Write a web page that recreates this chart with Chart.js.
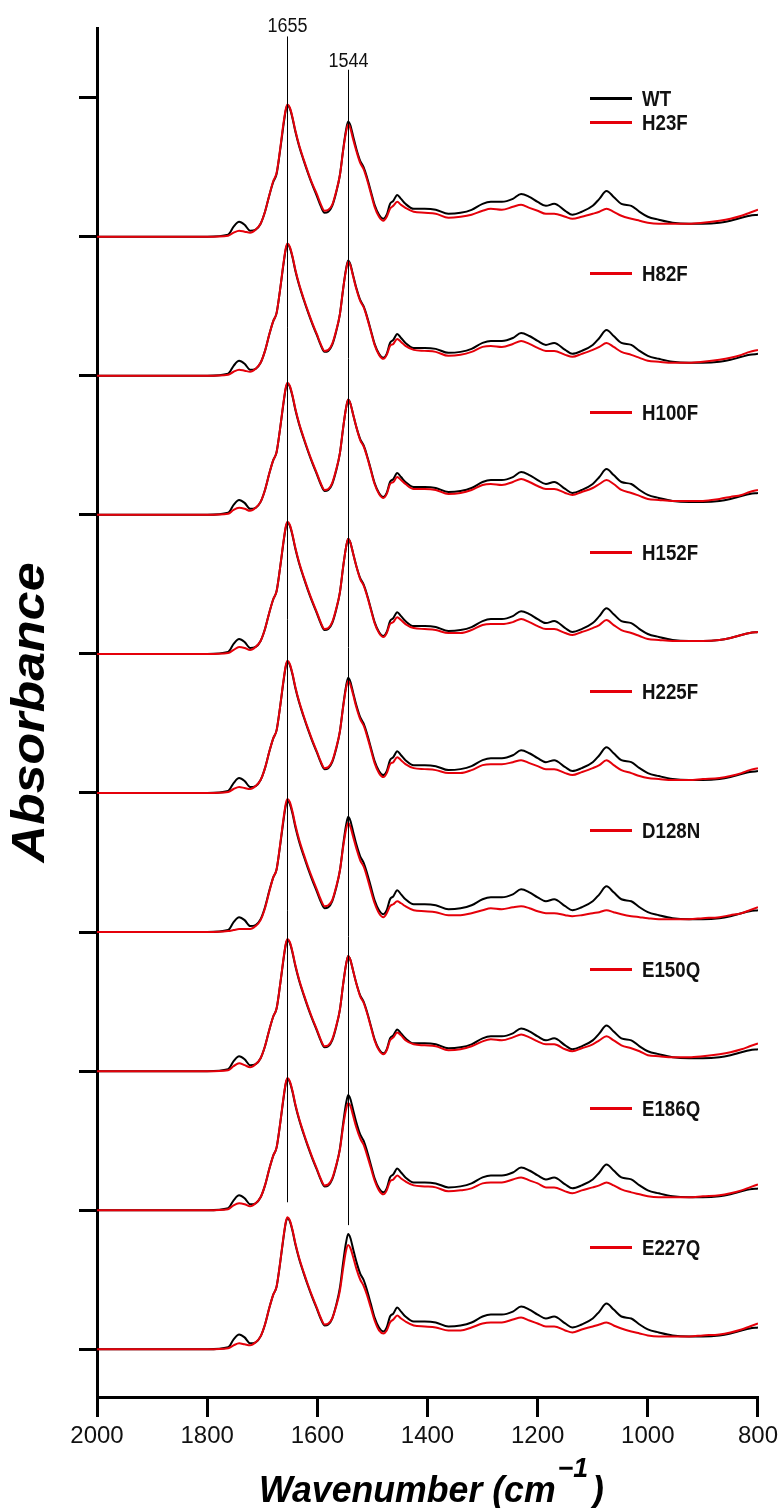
<!DOCTYPE html>
<html>
<head>
<meta charset="utf-8">
<script src="https://cdn.jsdelivr.net/npm/chart.js@4.4.1/dist/chart.umd.min.js"></script>
<style>
  html, body { margin: 0; padding: 0; background: #fff; }
  #wrap { width: 783px; height: 1508px; }
</style>
</head>
<body>
<div id="wrap"><canvas id="ftir" width="783" height="1508"></canvas></div>
<script>
// wavenumber grid (cm-1), high to low
const wavenumbers = [
  2000, 1900, 1800, 1762, 1752, 1742, 1732, 1722, 1712, 1703,
  1695, 1687, 1680, 1674, 1668, 1662, 1657, 1654, 1650, 1645,
  1640, 1633, 1625, 1617, 1609, 1601, 1594, 1587, 1580, 1573,
  1566, 1559, 1553, 1548, 1544, 1540, 1535, 1529, 1522, 1516,
  1510, 1503, 1496, 1488, 1480, 1474, 1468, 1462, 1455, 1448,
  1440, 1425, 1405, 1385, 1362, 1340, 1320, 1300, 1285, 1265,
  1245, 1230, 1215, 1200, 1185, 1170, 1150, 1137, 1120, 1100,
  1088, 1075, 1062, 1048, 1030, 1015, 1000, 980, 955, 925,
  900, 870, 850, 830, 815, 800
];

// absorbance in mOD
const wt = [
  0, 0, 0, 2, 10, 15, 12, 6, 7, 13,
  25, 42, 55, 63, 85, 110, 128, 132, 129, 119,
  106, 91, 77, 64, 52, 41, 31, 24, 25, 31,
  44, 62, 88, 107, 116, 112, 101, 88, 76, 70,
  60, 46, 32, 22, 18, 22, 33, 36, 42, 38,
  33, 28, 28, 27, 23, 24, 27, 33, 35, 35,
  38, 43, 40, 35, 31, 33, 26, 22, 25, 31,
  38, 46, 40, 33, 31, 25, 20, 17, 14, 13,
  13, 14, 16, 19, 21, 22
];
const h23f = [
  0, 0, 0, 1, 4, 6, 5, 4, 7, 13,
  25, 42, 56, 64, 86, 112, 129, 133, 130, 120,
  107, 92, 78, 65, 53, 43, 33, 26, 27, 32,
  45, 62, 87, 105, 113, 109, 98, 86, 74, 68,
  58, 44, 30, 20, 16, 20, 28, 31, 35, 32,
  29, 25, 24, 23, 19, 20, 22, 26, 28, 27,
  30, 32, 29, 26, 23, 23, 20, 18, 20, 23,
  25, 28, 25, 21, 18, 16, 14, 13, 13, 13,
  14, 16, 18, 21, 24, 27
];
const h82f = [
  0, 0, 0, 1, 4, 6, 5, 4, 7, 13,
  25, 42, 55, 63, 85, 111, 129, 133, 130, 120,
  107, 92, 78, 65, 53, 42, 32, 25, 26, 32,
  45, 62, 88, 106, 115, 111, 100, 87, 75, 69,
  59, 45, 31, 21, 17, 21, 30, 32, 37, 34,
  30, 26, 25, 24, 20, 21, 24, 29, 30, 29,
  32, 35, 32, 28, 25, 25, 21, 19, 22, 26,
  29, 33, 29, 24, 21, 18, 15, 14, 13, 13,
  14, 16, 18, 21, 24, 26
];
const h100f = [
  0, 0, 0, 1, 5, 7, 6, 4, 7, 13,
  25, 42, 55, 63, 85, 111, 129, 133, 130, 120,
  107, 92, 78, 65, 53, 42, 32, 25, 26, 32,
  45, 62, 88, 107, 116, 112, 101, 88, 75, 69,
  59, 45, 31, 21, 17, 21, 31, 33, 38, 35,
  31, 26, 26, 25, 21, 22, 25, 30, 31, 30,
  33, 36, 33, 29, 26, 26, 22, 20, 23, 27,
  31, 35, 31, 25, 22, 19, 16, 15, 14, 14,
  14, 16, 18, 20, 23, 25
];
const h152f = [
  0, 0, 0, 1, 4, 7, 6, 4, 7, 13,
  25, 42, 55, 63, 85, 111, 129, 133, 130, 120,
  107, 92, 78, 65, 53, 42, 32, 25, 26, 32,
  45, 62, 88, 107, 116, 112, 101, 88, 75, 69,
  59, 45, 31, 21, 17, 21, 30, 32, 37, 34,
  30, 26, 25, 24, 21, 21, 24, 29, 30, 30,
  32, 35, 32, 28, 25, 25, 21, 19, 22, 26,
  29, 34, 29, 24, 21, 18, 15, 14, 13, 13,
  13, 14, 16, 19, 21, 22
];
const h225f = [
  0, 0, 0, 1, 4, 6, 5, 4, 7, 13,
  25, 42, 55, 63, 85, 111, 129, 133, 130, 120,
  107, 92, 78, 65, 53, 42, 32, 25, 26, 32,
  45, 62, 87, 105, 113, 109, 99, 86, 74, 68,
  58, 44, 30, 20, 16, 20, 29, 31, 36, 33,
  29, 25, 24, 23, 20, 20, 23, 28, 29, 29,
  31, 33, 30, 27, 24, 24, 20, 18, 21, 25,
  28, 33, 28, 23, 20, 17, 15, 14, 13, 13,
  14, 15, 17, 20, 23, 25
];
const d128n = [
  0, 0, 0, 1, 2, 3, 3, 3, 6, 12,
  24, 41, 55, 63, 86, 112, 130, 134, 131, 121,
  108, 93, 79, 66, 54, 43, 33, 26, 27, 32,
  45, 62, 86, 103, 110, 106, 96, 84, 72, 66,
  56, 42, 29, 19, 15, 19, 26, 28, 31, 29,
  26, 22, 21, 20, 17, 17, 19, 22, 24, 23,
  25, 26, 24, 21, 19, 19, 17, 16, 17, 19,
  20, 22, 20, 18, 16, 15, 14, 13, 13, 13,
  14, 15, 17, 19, 22, 25
];
const e150q = [
  0, 0, 0, 1, 5, 8, 6, 4, 7, 13,
  25, 42, 55, 63, 85, 111, 129, 133, 130, 120,
  107, 92, 78, 65, 53, 42, 32, 25, 26, 32,
  45, 62, 88, 107, 116, 112, 101, 88, 75, 69,
  59, 45, 31, 21, 17, 21, 31, 34, 39, 36,
  31, 27, 26, 25, 21, 22, 25, 30, 32, 31,
  34, 37, 34, 30, 27, 27, 22, 20, 23, 27,
  31, 35, 31, 26, 23, 20, 16, 15, 14, 14,
  15, 17, 19, 22, 25, 28
];
const e186q = [
  0, 0, 0, 1, 5, 7, 6, 4, 7, 13,
  25, 42, 55, 63, 85, 111, 129, 133, 130, 120,
  107, 92, 78, 65, 53, 42, 32, 25, 26, 32,
  45, 61, 85, 101, 108, 105, 95, 83, 72, 66,
  56, 43, 30, 20, 16, 20, 29, 31, 35, 32,
  29, 25, 24, 23, 19, 20, 22, 27, 28, 28,
  31, 33, 30, 27, 23, 23, 19, 17, 20, 23,
  25, 28, 25, 21, 18, 16, 14, 13, 13, 13,
  14, 15, 17, 20, 23, 26
];
const e227q = [
  0, 0, 0, 1, 4, 6, 5, 4, 7, 13,
  25, 42, 55, 63, 85, 111, 129, 133, 130, 120,
  107, 92, 78, 65, 53, 42, 32, 25, 26, 31,
  43, 59, 82, 99, 105, 102, 93, 81, 70, 64,
  55, 42, 29, 19, 16, 19, 27, 30, 34, 31,
  28, 24, 23, 22, 19, 19, 22, 26, 27, 27,
  30, 32, 29, 26, 23, 23, 19, 17, 20, 23,
  25, 27, 24, 21, 18, 16, 14, 13, 13, 13,
  14, 15, 17, 20, 23, 26
];

const mutantNames = ['H23F', 'H82F', 'H100F', 'H152F', 'H225F', 'D128N', 'E150Q', 'E186Q', 'E227Q'];
const mutantSpectra = [h23f, h82f, h100f, h152f, h225f, d128n, e150q, e186q, e227q];
const panelStep = 0.14; // vertical offset between stacked pairs (abs units)

const xTickValues = [2000, 1800, 1600, 1400, 1200, 1000, 800];
const yTickValues = [0, 0.14, 0.28, 0.42, 0.56, 0.70, 0.84, 0.98, 1.12, 1.26];
const peakMarks = [1655, 1544];

const RED = '#e5000a';
const FONT = '"Liberation Sans", Arial, sans-serif';

function offsetOf(i) {
    return (mutantNames.length - 1 - i) * panelStep;
}

function toPoints(values, off) {
    return values.map((v, k) => ({ x: wavenumbers[k], y: v / 1000 + off }));
}

const datasets = [];
mutantNames.forEach((name, i) => {
    const off = offsetOf(i);
    datasets.push({
        label: name,
        data: toPoints(mutantSpectra[i], off),
        borderColor: RED,
        borderWidth: 2,
        order: 0
    });
    datasets.push({
        label: 'WT',
        data: toPoints(wt, off),
        borderColor: '#000',
        borderWidth: 2,
        order: 1
    });
});

// draws text squeezed/stretched horizontally
function drawScaled(ctx, text, x, y, sx, align) {
    ctx.save();
    ctx.translate(x, y);
    ctx.scale(sx, 1);
    ctx.textAlign = align || 'left';
    ctx.fillText(text, 0, 0);
    ctx.restore();
}

const decorPlugin = {
    id: 'decor',
    afterDraw(chart) {
        const ctx = chart.ctx;
        const xs = chart.scales.x;
        const ys = chart.scales.y;
        const area = chart.chartArea;

        // peak marker lines + labels
        const lineTop = [1.3215, 1.288];
        const lineBottom = [0.148, 0.125];
        const labelY = [1.3255, 1.291];
        ctx.save();
        ctx.strokeStyle = '#000';
        ctx.lineWidth = 1;
        ctx.fillStyle = '#111';
        ctx.font = '20px ' + FONT;
        ctx.textBaseline = 'alphabetic';
        peakMarks.forEach((wn, i) => {
            const px = Math.round(xs.getPixelForValue(wn)) + 0.5;
            ctx.beginPath();
            ctx.moveTo(px, ys.getPixelForValue(lineTop[i]));
            ctx.lineTo(px, ys.getPixelForValue(lineBottom[i]));
            ctx.stroke();
            drawScaled(ctx, String(wn), px, ys.getPixelForValue(labelY[i]), 0.9, 'center');
        });
        ctx.restore();

        // per-panel legend entries
        ctx.save();
        ctx.font = 'bold 22px ' + FONT;
        ctx.textBaseline = 'middle';
        ctx.fillStyle = '#111';
        ctx.lineWidth = 3;
        const drawEntry = (label, color, yVal) => {
            const py = Math.round(ys.getPixelForValue(yVal)) + 0.5;
            ctx.strokeStyle = color;
            ctx.beginPath();
            ctx.moveTo(590, py);
            ctx.lineTo(632, py);
            ctx.stroke();
            drawScaled(ctx, label, 642, py + 1, 0.85, 'left');
        };
        mutantNames.forEach((name, i) => {
            const off = offsetOf(i);
            if (i === 0) {
                drawEntry('WT', '#000', off + 0.140);
                drawEntry(name, RED, off + 0.115);
            } else {
                drawEntry(name, RED, off + 0.103);
            }
        });
        ctx.restore();

        // y axis title
        ctx.save();
        ctx.fillStyle = '#000';
        ctx.font = 'italic bold 46px ' + FONT;
        ctx.textBaseline = 'middle';
        const yt = 'Absorbance';
        const ytw = ctx.measureText(yt).width;
        ctx.translate(31, (area.top + area.bottom) / 2);
        ctx.rotate(-Math.PI / 2);
        ctx.scale(300 / ytw, 1);
        ctx.textAlign = 'center';
        ctx.fillText(yt, 0, 0);
        ctx.restore();

        // x axis title with superscript
        ctx.save();
        ctx.fillStyle = '#000';
        ctx.textBaseline = 'alphabetic';
        const mainFont = 'italic bold 36px ' + FONT;
        const supFont = 'italic bold 27px ' + FONT;
        ctx.font = mainFont;
        const w1 = ctx.measureText('Wavenumber (cm').width;
        const w3 = ctx.measureText(')').width;
        ctx.font = supFont;
        const w2 = ctx.measureText('\u22121').width;
        const total = w1 + w2 + 6 + w3;
        const targetW = 345;
        const sx = targetW / total;
        const base = chart.height - 6;
        ctx.translate((area.left + area.right) / 2 + 4 - targetW / 2, base);
        ctx.scale(sx, 1);
        ctx.font = mainFont;
        ctx.fillText('Wavenumber (cm', 0, 0);
        ctx.font = supFont;
        ctx.fillText('\u22121', w1 + 2, -25);
        ctx.font = mainFont;
        ctx.fillText(')', w1 + w2 + 6, 0);
        ctx.restore();
    }
};

new Chart(document.getElementById('ftir'), {
    type: 'line',
    data: { datasets },
    options: {
        responsive: false,
        animation: false,
        devicePixelRatio: 1,
        layout: { padding: { top: 28, right: 23, left: 0, bottom: 0 } },
        elements: {
            point: { radius: 0 },
            line: { cubicInterpolationMode: 'monotone', fill: false }
        },
        plugins: {
            legend: { display: false },
            tooltip: { enabled: false }
        },
        scales: {
            x: {
                type: 'linear',
                reverse: true,
                min: 800,
                max: 2000,
                afterBuildTicks: s => { s.ticks = xTickValues.map(v => ({ value: v })); },
                afterFit: s => { s.height = 111; },
                border: { display: true, color: '#000', width: 3 },
                grid: { drawOnChartArea: false, drawTicks: true, tickLength: 20, lineWidth: 3, color: '#000' },
                ticks: {
                    color: '#111',
                    padding: 5,
                    maxRotation: 0,
                    autoSkip: false,
                    callback: v => String(v),
                    font: { family: FONT, size: 24 }
                }
            },
            y: {
                type: 'linear',
                min: -0.048,
                max: 1.33,
                afterBuildTicks: s => { s.ticks = yTickValues.map(v => ({ value: v })); },
                afterFit: s => { s.width = 97; },
                border: { display: true, color: '#000', width: 3 },
                grid: { drawOnChartArea: false, drawTicks: true, tickLength: 18, lineWidth: 3, color: '#000' },
                ticks: { callback: () => '' }
            }
        }
    },
    plugins: [decorPlugin]
});
</script>
</body>
</html>
